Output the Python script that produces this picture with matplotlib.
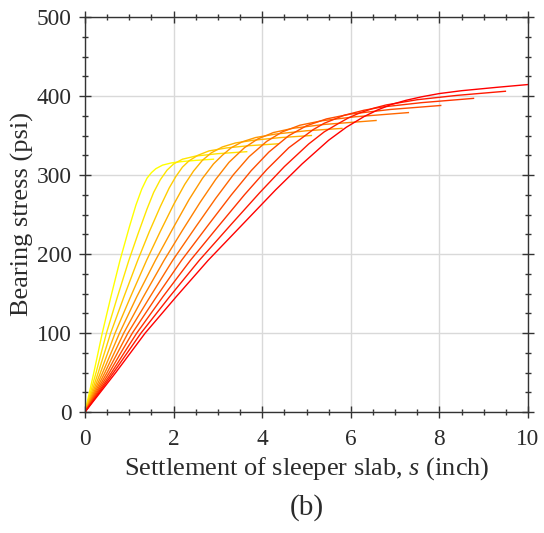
import matplotlib
matplotlib.use("Agg")
import matplotlib.pyplot as plt
from matplotlib.ticker import MultipleLocator

plt.rcParams['font.family'] = ['Liberation Serif', 'DejaVu Serif']
plt.rcParams['mathtext.fontset'] = 'custom'
plt.rcParams['mathtext.rm'] = 'Liberation Serif'
plt.rcParams['mathtext.it'] = 'Liberation Serif:italic'

# settlement (inch) and bearing stress (psi) for each curve, yellow -> red
s0 = [0, 0.2, 0.39, 0.585, 0.79, 1.0, 1.15, 1.28, 1.4, 1.5, 1.6, 1.75, 1.95, 2.2, 2.5, 2.9]
p0 = [0, 50, 100, 146, 192, 234, 262, 282, 296, 303, 308, 312.5, 315.3, 317.1, 318.5, 320]
s1 = [0, 0.25, 0.485, 0.733, 0.99, 1.2, 1.4, 1.55, 1.7, 1.85, 2.0, 2.2, 2.5, 3.0, 3.65]
p1 = [0, 50, 100, 146, 192, 226, 257, 278, 294, 306, 314, 320, 324, 327, 329.5]
s2 = [0, 0.3, 0.58, 0.88, 1.19, 1.45, 1.7, 1.9, 2.05, 2.2, 2.35, 2.55, 2.8, 3.2, 3.7, 4.36]
p2 = [0, 50, 100, 146, 192, 228, 260, 283.5, 298, 310, 318, 325, 330.5, 334.3, 337.1, 339.5]
s3 = [0, 0.35, 0.68, 1.03, 1.39, 1.7, 2.0, 2.25, 2.45, 2.65, 2.85, 3.1, 3.4, 3.8, 4.4, 5.11]
p3 = [0, 50, 100, 146, 192, 228.6, 262.5, 288, 305, 318.6, 328, 335.5, 340.6, 344, 347.3, 350]
s4 = [0, 0.4, 0.78, 1.17, 1.59, 2.0, 2.35, 2.65, 2.9, 3.1, 3.3, 3.55, 3.85, 4.3, 5.0, 5.8]
p4 = [0, 50, 100, 146, 192, 234, 269, 295.6, 314, 325, 334.5, 342, 347.4, 351.8, 356, 359]
s5 = [0, 0.45, 0.875, 1.32, 1.785, 2.2, 2.6, 2.95, 3.25, 3.6, 3.9, 4.25, 4.7, 5.4, 6.57]
p5 = [0, 50, 100, 146, 192, 230, 265.5, 294.4, 316, 334.6, 345.6, 353.7, 359.2, 364, 369]
s6 = [0, 0.5, 0.97, 1.47, 1.98, 2.5, 2.95, 3.35, 3.7, 4.1, 4.45, 4.85, 5.35, 6.1, 7.3]
p6 = [0, 50, 100, 146, 192, 234.4, 270.4, 300.4, 323, 342.5, 354.5, 363, 368.7, 373.7, 379]
s7 = [0, 0.55, 1.07, 1.615, 2.18, 2.8, 3.3, 3.75, 4.15, 4.6, 5.0, 5.45, 6.0, 6.9, 8.03]
p7 = [0, 50, 100, 146, 192, 238, 274.6, 305.4, 329, 349.8, 362.3, 371, 377.2, 383, 388]
s8 = [0, 0.6, 1.17, 1.76, 2.38, 3.0, 3.6, 4.1, 4.6, 5.15, 5.4, 5.85, 6.3, 6.7, 7.6, 8.77]
p8 = [0, 50, 100, 146, 192, 234.4, 275, 306.7, 334.5, 357.4, 365.5, 375.6, 382, 386, 391.6, 397]
s9 = [0, 0.645, 1.265, 1.91, 2.58, 3.3, 3.95, 4.5, 5.05, 5.4, 5.7, 5.95, 6.2, 6.5, 6.8, 7.5, 8.4, 9.49]
p9 = [0, 50, 100, 146, 192, 237.5, 278, 310.6, 339.3, 354.6, 364.5, 372.4, 378.5, 384.3, 388.7, 395.3, 400.8, 406]
s10 = [0, 0.695, 1.36, 2.06, 2.78, 3.6, 4.3, 4.9, 5.5, 5.9, 6.3, 6.6, 6.9, 7.25, 7.6, 8.0, 8.5, 9.3, 10.0]
p10 = [0, 50, 100, 146, 192, 240, 281, 314, 344, 360.5, 374, 382.2, 389, 394.6, 399, 403.1, 406.7, 411, 414.5]

settlements = [s0, s1, s2, s3, s4, s5, s6, s7, s8, s9, s10]
stresses = [p0, p1, p2, p3, p4, p5, p6, p7, p8, p9, p10]

x_ticks = [0, 2, 4, 6, 8, 10]
y_ticks = [0, 100, 200, 300, 400, 500]

fig = plt.figure(figsize=(5.44, 5.33), dpi=100)
ax = fig.add_axes([85/544, 1-412/533, (528-85)/544, (412-17)/533])

n = len(settlements)
for i, (sx, sy) in enumerate(zip(settlements, stresses)):
    g = 1 - i/(n-1)
    ax.plot(sx, sy, color=(1.0, g, 0.0), lw=1.0, solid_joinstyle='round')

ax.set_xlim(0, 10)
ax.set_ylim(0, 500)
ax.set_xticks(x_ticks)
ax.set_yticks(y_ticks)
ax.xaxis.set_minor_locator(MultipleLocator(0.5))
ax.yaxis.set_minor_locator(MultipleLocator(25))
ax.grid(True, which='major', color='#d9d9d9', lw=1.0)
ax.set_axisbelow(True)
txt = '#2b2b2b'
for sp in ax.spines.values():
    sp.set_color('#333333')
    sp.set_linewidth(1.0)
ax.tick_params(which='both', direction='inout', top=True, right=True,
               colors='#333333', labelcolor=txt, labelsize=16.8, width=1.0)
ax.tick_params(which='major', length=8)
ax.tick_params(which='minor', length=5)
ax.tick_params(axis='x', which='major', pad=8)
ax.tick_params(axis='y', which='major', pad=5.5)
ax.set_xlabel('Settlement of sleeper slab, $s$ (inch)', fontsize=19, color=txt, labelpad=4)
ax.set_ylabel('Bearing stress (psi)', fontsize=19, color=txt, labelpad=2)
fig.text((85+528)/2/544, 1-508/533, '(b)', ha='center', va='center', fontsize=21, color=txt)

fig.savefig('out.png', dpi=100)
